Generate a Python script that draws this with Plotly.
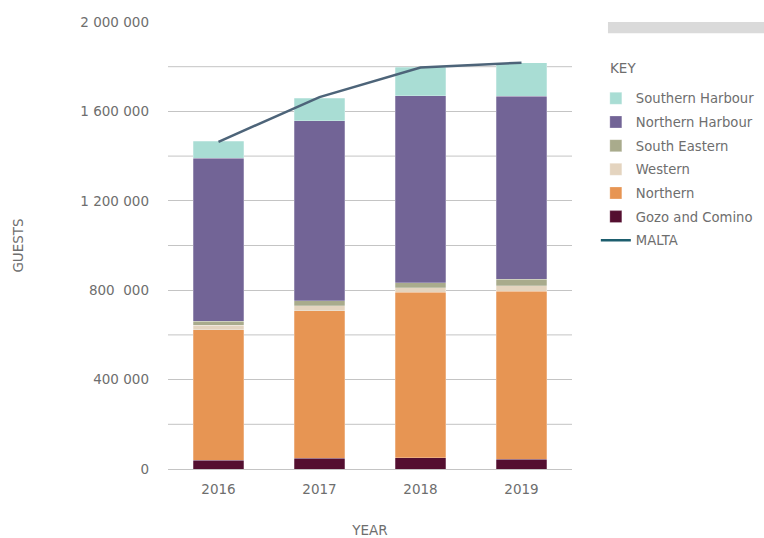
import plotly.graph_objects as go

years = ["2016", "2017", "2018", "2019"]
gozo = [40000, 48000, 51000, 43000]
northern = [582000, 659000, 739000, 753000]
western = [21000, 24000, 21000, 23000]
south_eastern = [18000, 21000, 23000, 30000]
northern_harbour = [729000, 806000, 836000, 819000]
southern_harbour = [76000, 101000, 128000, 149000]
malta = [1464000, 1664000, 1796000, 1818000]

ytick_vals = [0, 400000, 800000, 1200000, 1600000, 2000000]
ytick_text = ["0", "400 000", "800  000", "1 200 000", "1 600 000", "2 000 000"]

FONT = "DejaVu Sans"
TXT = "#6e6e6e"

series = [
    ("Gozo and Comino", gozo, "#540f30", 6),
    ("Northern", northern, "#e79553", 5),
    ("Western", western, "#e4d4bf", 4),
    ("South Eastern", south_eastern, "#a9ab8c", 3),
    ("Northern Harbour", northern_harbour, "#726496", 2),
    ("Southern Harbour", southern_harbour, "#a9ddd4", 1),
]

fig = go.Figure()
for name, vals, color, rank in series:
    fig.add_trace(go.Bar(
        x=years, y=vals, name=name, width=0.5,
        marker=dict(color=color, line=dict(color="rgba(255,255,255,0.5)", width=0.5)),
        legendrank=rank, legendgroup=name,
    ))

fig.add_trace(go.Scatter(
    x=years, y=malta, name="MALTA", mode="lines",
    line=dict(color="#4d6479", width=2.5),
    showlegend=False, legendgroup="MALTA",
))
# legend entry for MALTA (teal swatch as in the key)
fig.add_trace(go.Scatter(
    x=[None], y=[None], name="MALTA", mode="lines",
    line=dict(color="#1d5e6e", width=2.5),
    legendrank=7, legendgroup="MALTA",
))

fig.update_layout(
    width=764, height=538,
    margin=dict(l=168, r=192, t=22, b=69, autoexpand=False),
    barmode="stack",
    plot_bgcolor="white", paper_bgcolor="white",
    font=dict(family=FONT, size=12, color=TXT),
    legend=dict(
        x=1.059, y=0.863, xanchor="left", yanchor="top",
        traceorder="grouped", tracegroupgap=3.5,
        font=dict(size=13.2, color=TXT),
        bgcolor="rgba(0,0,0,0)",
    ),
    xaxis=dict(
        range=[-0.5, 3.5], showgrid=False, showline=False, zeroline=False,
        ticks="", ticklabelstandoff=10, automargin=False,
        title=dict(text="YEAR", standoff=36, font=dict(size=13.5, color=TXT)),
        tickfont=dict(size=13.5, color=TXT),
    ),
    yaxis=dict(
        range=[0, 2000000], tickmode="array",
        tickvals=ytick_vals, ticktext=ytick_text,
        showgrid=True, gridcolor="#c4c4c4", gridwidth=1,
        zeroline=True, zerolinecolor="#c4c4c4", zerolinewidth=1,
        ticks="", ticklabelstandoff=18, automargin=False,
        title=dict(text="GUESTS", standoff=53, font=dict(size=13.5, color=TXT)),
        tickfont=dict(size=13.5, color=TXT),
    ),
    annotations=[
        dict(text="KEY", xref="paper", yref="paper", x=1.089, y=0.898,
             xanchor="left", yanchor="middle", showarrow=False,
             font=dict(size=13.5, color=TXT)),
    ],
    shapes=[
        dict(type="rect", xref="paper", yref="paper",
             x0=1.089, x1=1.5, y0=0.975, y1=1.0,
             fillcolor="#dadada", line=dict(width=0)),
    ] + [
        dict(type="line", xref="paper", yref="y", x0=0, x1=1,
             y0=v, y1=v, line=dict(color="#c4c4c4", width=1), layer="below")
        for v in [200000, 600000, 1000000, 1400000, 1800000]
    ],
)

fig.write_html("out.html", config={"displayModeBar": False},
               post_script="document.body.style.margin='0';")
